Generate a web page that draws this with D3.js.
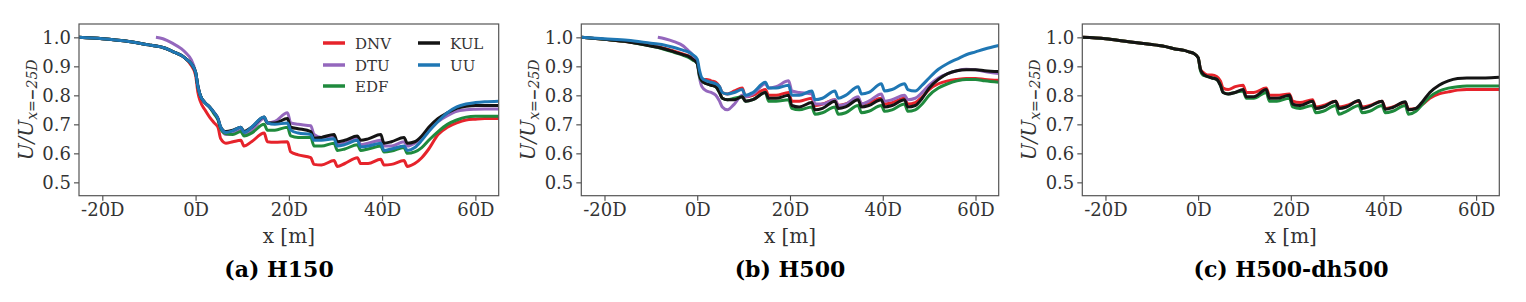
<!DOCTYPE html>
<html><head><meta charset="utf-8">
<script src="https://cdn.jsdelivr.net/npm/d3@7"></script>
<style>body{margin:0;background:#fff}svg{display:block}</style>
</head><body>
<svg id="chart" width="1526" height="302"></svg>
<script>
// Shared x positions (in rotor diameters D)
const X = [-25,-20,-15,-10,-8.5,-7,-5,-3,-2,-1, 0,0.5,1,2,3,4, 4.8,5.4,6.5,8, 9.7,10.4,12, 14.7,15.4,17, 19.7,20.4,22, 24.7,25.4,27, 29.7,30.4,32, 34.7,35.4,37, 39.7,40.4,42, 44.7,45.4,47, 48.5,50,52,54,56,58,60,62,65];
const xTicks = [-20,0,20,40,60];
const yTicks = [0.5,0.6,0.7,0.8,0.9,1.0];
const seriesNames = ["DNV","DTU","EDF","KUL","UU"];
const seriesColors = {DNV:"#e6232b",DTU:"#9467bd",EDF:"#1f8a3d",KUL:"#141414",UU:"#1f77b4"};
const panelTitles = ["(a) H150","(b) H500","(c) H500-dh500"];

// Panel (a) H150
const a_DNV = [1.0,0.995,0.987,0.974,0.97,0.965,0.952,0.937,0.925,0.905, 0.87,0.81,0.78,0.75,0.725,0.705, 0.69,0.65,0.635,0.64, 0.645,0.625,0.64, 0.67,0.64,0.638, 0.64,0.605,0.595, 0.585,0.562,0.56, 0.575,0.555,0.565, 0.585,0.565,0.565, 0.58,0.56,0.562, 0.575,0.555,0.565, 0.585,0.615,0.665,0.69,0.705,0.715,0.718,0.72,0.72];
const a_DTU = [null,null,null,null,1.0,0.995,0.98,0.96,0.945,0.925, 0.88,0.835,0.80,0.775,0.76,0.74, 0.72,0.685,0.665,0.668, 0.68,0.665,0.68, 0.72,0.705,0.71, 0.74,0.705,0.70, 0.695,0.665,0.655, 0.66,0.63,0.635, 0.655,0.63,0.635, 0.645,0.625,0.625, 0.64,0.625,0.635, 0.655,0.685,0.71,0.73,0.745,0.75,0.752,0.753,0.753];
const a_EDF = [1.0,0.995,0.987,0.974,0.97,0.965,0.952,0.937,0.925,0.91, 0.88,0.83,0.80,0.775,0.76,0.735, 0.715,0.685,0.668,0.665, 0.675,0.66,0.67, 0.70,0.68,0.68, 0.69,0.66,0.655, 0.655,0.625,0.625, 0.635,0.61,0.615, 0.63,0.61,0.615, 0.625,0.605,0.608, 0.62,0.60,0.605, 0.62,0.645,0.675,0.70,0.715,0.725,0.728,0.728,0.728];
const a_KUL = [1.0,0.995,0.987,0.974,0.97,0.965,0.952,0.937,0.925,0.91, 0.88,0.83,0.80,0.775,0.76,0.74, 0.72,0.69,0.675,0.68, 0.69,0.675,0.69, 0.725,0.705,0.705, 0.72,0.69,0.685, 0.675,0.652,0.655, 0.665,0.64,0.645, 0.66,0.645,0.65, 0.665,0.635,0.64, 0.655,0.635,0.64, 0.66,0.69,0.72,0.74,0.755,0.762,0.765,0.765,0.765];
const a_UU  = [1.0,0.995,0.987,0.974,0.97,0.965,0.952,0.937,0.925,0.91, 0.88,0.83,0.80,0.775,0.76,0.74, 0.72,0.69,0.672,0.678, 0.69,0.672,0.69, 0.725,0.705,0.70, 0.705,0.68,0.67, 0.665,0.645,0.645, 0.65,0.625,0.63, 0.645,0.622,0.625, 0.635,0.61,0.615, 0.625,0.61,0.62, 0.645,0.675,0.71,0.74,0.76,0.77,0.775,0.778,0.78];

// Panel (b) H500
const b_DNV = [1.0,0.993,0.985,0.972,0.968,0.962,0.952,0.942,0.937,0.928, 0.915,0.87,0.855,0.855,0.85,0.845, 0.83,0.81,0.805,0.815, 0.825,0.795,0.80, 0.82,0.80,0.80, 0.81,0.78,0.78, 0.79,0.765,0.77, 0.785,0.765,0.77, 0.79,0.77,0.775, 0.79,0.77,0.775, 0.79,0.77,0.775, 0.795,0.82,0.84,0.85,0.855,0.858,0.858,0.855,0.852];
const b_DTU = [null,null,null,null,1.0,0.995,0.985,0.97,0.955,0.94, 0.91,0.86,0.83,0.815,0.81,0.80, 0.78,0.76,0.75,0.77, 0.80,0.795,0.805, 0.84,0.825,0.83, 0.85,0.815,0.81, 0.805,0.77,0.77, 0.785,0.765,0.77, 0.795,0.77,0.78, 0.805,0.78,0.785, 0.80,0.785,0.79, 0.81,0.835,0.86,0.875,0.885,0.89,0.888,0.882,0.875];
const b_EDF = [1.0,0.993,0.985,0.97,0.965,0.958,0.948,0.938,0.932,0.922, 0.91,0.865,0.85,0.84,0.835,0.83, 0.81,0.79,0.785,0.79, 0.795,0.78,0.785, 0.81,0.78,0.78, 0.785,0.755,0.75, 0.76,0.735,0.74, 0.76,0.735,0.74, 0.765,0.74,0.745, 0.765,0.745,0.75, 0.77,0.745,0.75, 0.77,0.80,0.825,0.84,0.85,0.855,0.855,0.85,0.845];
const b_KUL = [1.0,0.993,0.985,0.97,0.966,0.96,0.95,0.94,0.935,0.925, 0.91,0.87,0.85,0.84,0.835,0.83, 0.81,0.79,0.785,0.785, 0.795,0.78,0.785, 0.81,0.79,0.79, 0.80,0.765,0.76, 0.775,0.75,0.755, 0.78,0.755,0.76, 0.785,0.76,0.765, 0.785,0.76,0.765, 0.785,0.76,0.765, 0.79,0.825,0.855,0.875,0.885,0.888,0.888,0.885,0.882];
const b_UU  = [1.0,0.995,0.99,0.98,0.977,0.973,0.965,0.955,0.95,0.94, 0.925,0.885,0.86,0.85,0.845,0.84, 0.83,0.81,0.805,0.81, 0.82,0.80,0.81, 0.845,0.825,0.825, 0.835,0.80,0.80, 0.815,0.785,0.79, 0.815,0.79,0.80, 0.83,0.805,0.81, 0.84,0.815,0.82, 0.84,0.82,0.815, 0.835,0.86,0.89,0.91,0.925,0.94,0.95,0.96,0.972];

// Panel (c) H500-dh500
const c_DNV = [1.0,0.995,0.985,0.975,0.972,0.968,0.96,0.955,0.95,0.945, 0.93,0.89,0.88,0.87,0.87,0.865, 0.85,0.825,0.82,0.83, 0.835,0.81,0.81, 0.825,0.80,0.80, 0.805,0.78,0.775, 0.785,0.76,0.765, 0.78,0.76,0.765, 0.78,0.76,0.765, 0.78,0.755,0.76, 0.775,0.752,0.755, 0.77,0.79,0.805,0.812,0.818,0.82,0.82,0.82,0.82];
const c_EDF = [1.0,0.995,0.985,0.975,0.972,0.968,0.96,0.955,0.95,0.945, 0.93,0.885,0.87,0.865,0.86,0.855, 0.835,0.81,0.805,0.81, 0.815,0.79,0.79, 0.81,0.78,0.78, 0.79,0.76,0.755, 0.765,0.74,0.745, 0.765,0.735,0.745, 0.765,0.74,0.745, 0.765,0.74,0.745, 0.765,0.735,0.745, 0.77,0.795,0.815,0.825,0.83,0.832,0.832,0.832,0.832];
const c_KUL = [1.0,0.995,0.985,0.975,0.972,0.968,0.96,0.955,0.95,0.945, 0.93,0.89,0.875,0.865,0.86,0.855, 0.835,0.81,0.805,0.81, 0.82,0.795,0.795, 0.82,0.79,0.79, 0.80,0.77,0.765, 0.78,0.755,0.76, 0.78,0.755,0.76, 0.782,0.755,0.762, 0.78,0.752,0.758, 0.778,0.75,0.755, 0.78,0.81,0.835,0.85,0.858,0.86,0.86,0.86,0.862];

const panels = [
  {title: panelTitles[0], left: 79, right: 498.7, titleX: 279, series: {DNV:a_DNV, DTU:a_DTU, EDF:a_EDF, KUL:a_KUL, UU:a_UU}, legend: true},
  {title: panelTitles[1], left: 581.3, right: 998.7, titleX: 790, series: {DNV:b_DNV, DTU:b_DTU, EDF:b_EDF, KUL:b_KUL, UU:b_UU}},
  {title: panelTitles[2], left: 1082.3, right: 1499.3, titleX: 1291, series: {DNV:c_DNV, EDF:c_EDF, KUL:c_KUL}}
];

const plotTop = 24, plotBottom = 195.7;
const svg = d3.select("#chart");
const serif = "'DejaVu Serif', serif";

panels.forEach((p, i) => {
  const x = d3.scaleLinear().domain([-25, 65]).range([p.left, p.right]);
  const y = d3.scaleLinear().domain([0.454, 1.046]).range([plotBottom, plotTop]);
  const g = svg.append("g");

  const clipId = "clip" + i;
  svg.append("clipPath").attr("id", clipId).append("rect")
    .attr("x", p.left).attr("y", plotTop).attr("width", p.right - p.left).attr("height", plotBottom - plotTop);

  const line = d3.line()
    .defined(d => d[1] != null)
    .x(d => x(d[0])).y(d => y(d[1]))
    .curve(d3.curveMonotoneX);

  const lines = g.append("g").attr("clip-path", `url(#${clipId})`);
  seriesNames.forEach(name => {
    const vals = p.series[name];
    if (!vals) return;
    lines.append("path")
      .datum(X.map((xv, k) => [xv, vals[k]]))
      .attr("d", line)
      .attr("fill", "none")
      .attr("stroke", seriesColors[name])
      .attr("stroke-width", 3)
      .attr("stroke-linejoin", "round");
  });

  const xAxis = d3.axisBottom(x).tickValues(xTicks).tickFormat(d => d + "D").tickSize(5).tickPadding(3);
  const yAxis = d3.axisLeft(y).tickValues(yTicks).tickFormat(d3.format(".1f")).tickSize(5).tickPadding(3);
  const gx = g.append("g").attr("transform", `translate(0,${plotBottom})`).call(xAxis);
  const gy = g.append("g").attr("transform", `translate(${p.left},0)`).call(yAxis);
  [gx, gy].forEach(a => {
    a.select(".domain").remove();
    a.selectAll(".tick line").attr("stroke", "#444").attr("stroke-width", 1.1);
    a.selectAll(".tick text").attr("fill", "#333").style("font-family", serif).style("font-size", "18px");
  });

  g.append("rect").attr("x", p.left).attr("y", plotTop)
    .attr("width", p.right - p.left).attr("height", plotBottom - plotTop)
    .attr("fill", "none").attr("stroke", "#555").attr("stroke-width", 1.2);

  g.append("text").attr("x", (p.left + p.right) / 2).attr("y", 243)
    .attr("text-anchor", "middle").attr("fill", "#333")
    .style("font-family", serif).style("font-size", "20px").text("x [m]");

  const yl = g.append("text")
    .attr("transform", `translate(${p.left - 46},${(plotTop + plotBottom) / 2}) rotate(-90)`)
    .attr("text-anchor", "middle").attr("fill", "#333")
    .style("font-family", serif).style("font-style", "italic").style("font-size", "20px");
  yl.append("tspan").text("U/U");
  yl.append("tspan").attr("dy", 4).style("font-size", "14px").text("x=");
  yl.append("tspan").style("font-size", "14px").style("font-style", "normal").style("font-weight", "bold").text("−");
  yl.append("tspan").style("font-size", "14px").text("25D");

  g.append("text").attr("x", p.titleX).attr("y", 277)
    .attr("text-anchor", "middle").attr("fill", "#000")
    .style("font-family", serif).style("font-weight", "bold").style("font-size", "22px")
    .text(p.title);

  if (p.legend) {
    const cols = [{x0: 323, names: ["DNV","DTU","EDF"]}, {x0: 418, names: ["KUL","UU"]}];
    const rowsY = [43, 65, 86];
    cols.forEach(c => {
      c.names.forEach((n, r) => {
        g.append("line").attr("x1", c.x0).attr("x2", c.x0 + 22)
          .attr("y1", rowsY[r]).attr("y2", rowsY[r])
          .attr("stroke", seriesColors[n]).attr("stroke-width", 3.5);
        g.append("text").attr("x", c.x0 + 32).attr("y", rowsY[r] + 5.5)
          .attr("fill", "#333").style("font-family", serif).style("font-size", "15px").text(n);
      });
    });
  }
});
</script>
</body></html>
